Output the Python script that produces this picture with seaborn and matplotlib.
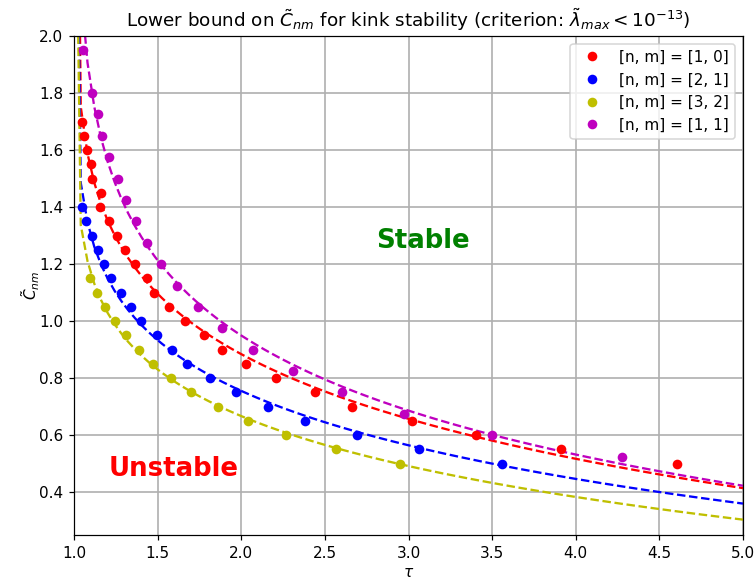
import numpy as np
import pandas as pd
import matplotlib
matplotlib.use("Agg")
import matplotlib.pyplot as plt
from matplotlib.lines import Line2D
import seaborn as sns

# ---- data ----
labels = ["[n, m] = [1, 0]", "[n, m] = [2, 1]", "[n, m] = [3, 2]", "[n, m] = [1, 1]"]
colors = ["r", "b", "y", "m"]

tau_10 = [1.050, 1.062, 1.076, 1.103, 1.109, 1.161, 1.155, 1.207, 1.255, 1.305, 1.367, 1.435,
          1.478, 1.568, 1.662, 1.775, 1.887, 2.030, 2.210, 2.439, 2.664, 3.023, 3.405, 3.912, 4.607]
C_10 = [1.70, 1.65, 1.60, 1.55, 1.50, 1.45, 1.40, 1.35, 1.30, 1.25, 1.20, 1.15,
        1.10, 1.05, 1.00, 0.95, 0.90, 0.85, 0.80, 0.75, 0.70, 0.65, 0.60, 0.55, 0.50]

tau_21 = [1.046, 1.070, 1.106, 1.143, 1.181, 1.219, 1.279, 1.339, 1.401, 1.498, 1.584, 1.674,
          1.811, 1.967, 2.162, 2.383, 2.692, 3.063, 3.559]
C_21 = [1.40, 1.35, 1.30, 1.25, 1.20, 1.15, 1.10, 1.05, 1.00, 0.95, 0.90, 0.85,
        0.80, 0.75, 0.70, 0.65, 0.60, 0.55, 0.50]

tau_32 = [1.098, 1.138, 1.185, 1.247, 1.311, 1.389, 1.472, 1.580, 1.697, 1.863, 2.042, 2.269,
          2.568, 2.949]
C_32 = [1.15, 1.10, 1.05, 1.00, 0.95, 0.90, 0.85, 0.80, 0.75, 0.70, 0.65, 0.60, 0.55, 0.50]

tau_11 = [1.056, 1.109, 1.143, 1.165, 1.211, 1.261, 1.311, 1.371, 1.436, 1.518, 1.616, 1.739,
          1.887, 2.070, 2.311, 2.602, 2.975, 3.501, 4.277]
C_11 = [1.95, 1.80, 1.725, 1.65, 1.575, 1.50, 1.425, 1.35, 1.275, 1.20, 1.125, 1.05,
        0.975, 0.90, 0.825, 0.75, 0.675, 0.60, 0.525]

taus = [tau_10, tau_21, tau_32, tau_11]
Cs = [C_10, C_21, C_32, C_11]

# exponent q of each fitted trend C = a + b*g(tau-1), g = x**q (q = 0 -> log)
fit_exponents = [0.1, 0.1, 0.1, 0.0]


def basis(x, q):
    with np.errstate(divide="ignore"):
        return np.log(x) if q == 0 else x ** q


def fit_trend(t, c, q):
    x = np.asarray(t) - 1.0
    c = np.asarray(c)
    A = np.column_stack([np.ones_like(x), basis(x, q)])
    (a, b), *_ = np.linalg.lstsq(A, c, rcond=None)
    return lambda tt: a + b * basis(np.asarray(tt) - 1.0, q)


# ---- figure ----
DPI = 110
fig = plt.figure(figsize=(755 / DPI, 582 / DPI), dpi=DPI)
ax = fig.add_axes([74 / 755, 1 - 535 / 582, (743 - 74) / 755, (535 - 36) / 582])

tau_grid = np.linspace(1.0, 5.0, 100)
handles = []
for t, c, col, lab, q in zip(taus, Cs, colors, labels, fit_exponents):
    f = fit_trend(t, c, q)
    y = f(tau_grid)
    y = np.where(np.isfinite(y), y, np.nan)
    sns.lineplot(x=tau_grid, y=y, ax=ax, color=col, linestyle="--", linewidth=1.5,
                 legend=False, zorder=2)
    sns.scatterplot(x=t, y=c, ax=ax, color=col, s=40, linewidth=0, zorder=3)
    handles.append(Line2D([], [], color=col, marker="o", linestyle="none",
                          markersize=6.3, markeredgewidth=0, label=lab))

ax.set_xlim(1.0, 5.0)
ax.set_ylim(0.25, 2.0)
ax.set_xticks(np.arange(1.0, 5.01, 0.5))
ax.set_yticks(np.arange(0.4, 2.01, 0.2))
ax.grid(True, color="#b0b0b0", linewidth=1.1)
ax.set_axisbelow(True)

ax.set_xlabel(r"$\tau$", labelpad=3)
ax.set_ylabel(r"$\tilde{C}_{nm}$", labelpad=-2)
ax.set_title(r"Lower bound on $\tilde{C}_{nm}$ for kink stability (criterion: $\tilde{\lambda}_{max} < 10^{-13}$)",
             fontsize=12)

ax.text(3.084, 1.28, "Stable", color="green", fontsize=17, fontweight="bold",
        ha="center", va="center")
ax.text(1.598, 0.48, "Unstable", color="red", fontsize=17, fontweight="bold",
        ha="center", va="center")

ax.legend(handles=handles, loc="upper right")

fig.savefig("out.png", dpi=DPI)
